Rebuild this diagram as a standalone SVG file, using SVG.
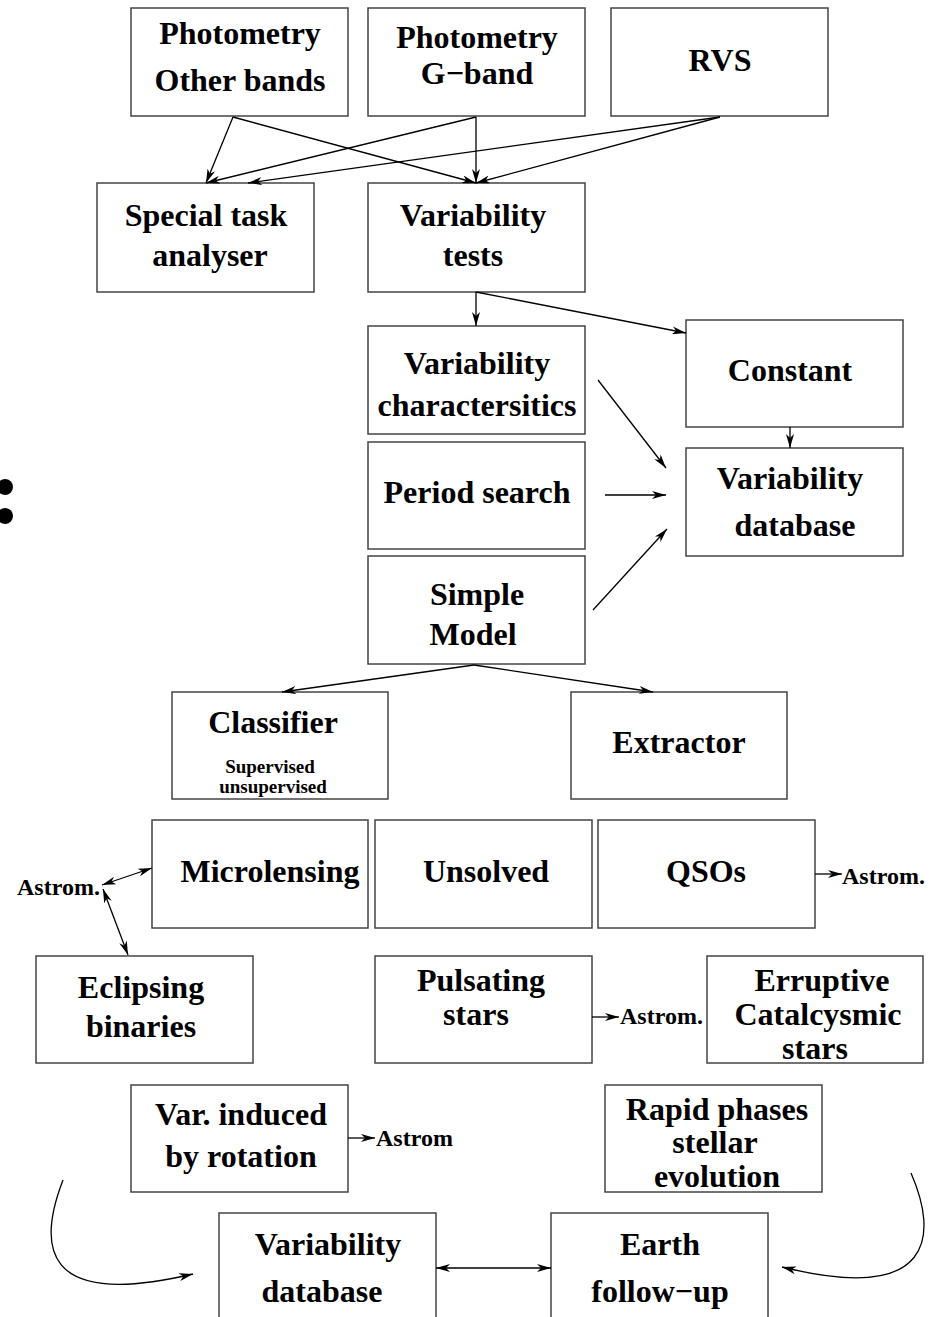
<svg xmlns="http://www.w3.org/2000/svg" width="933" height="1317" viewBox="0 0 933 1317">
<style>
.box{fill:#fff;stroke:#444;stroke-width:1.5}
text{font-family:"Liberation Serif","Times New Roman",serif;font-weight:bold;fill:#000}
.t{font-size:32px;text-anchor:middle}
.s{font-size:19px;text-anchor:middle}
.a{font-size:24px}
.c line,.c path{stroke:#000;stroke-width:1.3;fill:none}
</style>
<defs>
<marker id="ar" viewBox="0 0 14 8" refX="14" refY="4" markerWidth="14" markerHeight="8" markerUnits="userSpaceOnUse" orient="auto-start-reverse">
<path d="M0,0 L14,4 L0,8 L4,4 z" fill="#000"/>
</marker>
</defs>
<rect width="933" height="1317" fill="#fff"/>
<g id="n1"><rect class="box" x="131" y="8" width="217" height="108"/><text class="t" x="240" y="44">Photometry</text><text class="t" x="240" y="91">Other bands</text></g>
<g id="n2"><rect class="box" x="368" y="8" width="217" height="108"/><text class="t" x="477" y="48">Photometry</text><text class="t" x="477" y="84">G−band</text></g>
<g id="n3"><rect class="box" x="611" y="8" width="217" height="108"/><text class="t" x="720" y="71">RVS</text></g>
<g id="n4"><rect class="box" x="97" y="183" width="217" height="109"/><text class="t" x="206" y="226">Special task</text><text class="t" x="210" y="266">analyser</text></g>
<g id="n5"><rect class="box" x="368" y="183" width="217" height="109"/><text class="t" x="473" y="226">Variability</text><text class="t" x="473" y="266">tests</text></g>
<g id="n6"><rect class="box" x="368" y="326" width="217" height="108"/><text class="t" x="477" y="374">Variability</text><text class="t" x="477" y="416">charactersitics</text></g>
<g id="n7"><rect class="box" x="686" y="320" width="217" height="107"/><text class="t" x="790" y="381">Constant</text></g>
<g id="n8"><rect class="box" x="368" y="442" width="217" height="107"/><text class="t" x="477" y="503">Period search</text></g>
<g id="n9"><rect class="box" x="686" y="448" width="217" height="108"/><text class="t" x="790" y="489">Variability</text><text class="t" x="795" y="536">database</text></g>
<g id="n10"><rect class="box" x="368" y="556" width="217" height="108"/><text class="t" x="477" y="605">Simple</text><text class="t" x="473" y="645">Model</text></g>
<g id="n11"><rect class="box" x="172" y="692" width="216" height="107"/><text class="t" x="273" y="733">Classifier</text><text class="s" x="270" y="773">Supervised</text><text class="s" x="273" y="793">unsupervised</text></g>
<g id="n12"><rect class="box" x="571" y="692" width="216" height="107"/><text class="t" x="679" y="753">Extractor</text></g>
<g id="n13"><rect class="box" x="152" y="820" width="216" height="108"/><text class="t" x="270" y="882">Microlensing</text></g>
<g id="n14"><rect class="box" x="375" y="820" width="217" height="108"/><text class="t" x="486" y="882">Unsolved</text></g>
<g id="n15"><rect class="box" x="598" y="820" width="217" height="108"/><text class="t" x="706" y="882">QSOs</text></g>
<g id="n16"><rect class="box" x="36" y="956" width="217" height="107"/><text class="t" x="141" y="998">Eclipsing</text><text class="t" x="141" y="1037">binaries</text></g>
<g id="n17"><rect class="box" x="375" y="956" width="217" height="107"/><text class="t" x="481" y="991">Pulsating</text><text class="t" x="476" y="1025">stars</text></g>
<g id="n18"><rect class="box" x="707" y="956" width="216" height="107"/><text class="t" x="822" y="991">Erruptive</text><text class="t" x="818" y="1025">Catalcysmic</text><text class="t" x="815" y="1059">stars</text></g>
<g id="n19"><rect class="box" x="131" y="1085" width="217" height="107"/><text class="t" x="241" y="1125">Var. induced</text><text class="t" x="241" y="1167">by rotation</text></g>
<g id="n20"><rect class="box" x="605" y="1085" width="217" height="107"/><text class="t" x="717" y="1120">Rapid phases</text><text class="t" x="715" y="1153">stellar</text><text class="t" x="717" y="1187">evolution</text></g>
<g id="n21"><rect class="box" x="219" y="1213" width="217" height="110"/><text class="t" x="328" y="1255">Variability</text><text class="t" x="322" y="1302">database</text></g>
<g id="n22"><rect class="box" x="551" y="1213" width="217" height="110"/><text class="t" x="660" y="1255">Earth</text><text class="t" x="660" y="1302">follow−up</text></g>
<g id="labels">
<text class="a" x="17" y="895">Astrom.</text>
<text class="a" x="842" y="884">Astrom.</text>
<text class="a" x="620" y="1024">Astrom.</text>
<text class="a" x="376" y="1146">Astrom</text>
<circle cx="5" cy="487" r="8" fill="#000"/>
<circle cx="5" cy="516" r="8" fill="#000"/>
</g>
<g id="connectors" class="c">
<line x1="233" y1="117" x2="206" y2="183" marker-end="url(#ar)"/>
<line x1="233" y1="117" x2="476" y2="183" marker-end="url(#ar)"/>
<line x1="476" y1="117" x2="206" y2="183" marker-end="url(#ar)"/>
<line x1="476" y1="117" x2="476" y2="183" marker-end="url(#ar)"/>
<line x1="720" y1="117" x2="248" y2="183" marker-end="url(#ar)"/>
<line x1="720" y1="117" x2="476" y2="183" marker-end="url(#ar)"/>
<line x1="476" y1="292" x2="476" y2="326" marker-end="url(#ar)"/>
<line x1="476" y1="292" x2="686" y2="333" marker-end="url(#ar)"/>
<line x1="790" y1="427" x2="790" y2="448" marker-end="url(#ar)"/>
<line x1="598" y1="380" x2="666" y2="468" marker-end="url(#ar)"/>
<line x1="605" y1="495" x2="666" y2="495" marker-end="url(#ar)"/>
<line x1="593" y1="610" x2="667" y2="529" marker-end="url(#ar)"/>
<line x1="474" y1="665" x2="282" y2="692" marker-end="url(#ar)"/>
<line x1="474" y1="665" x2="653" y2="692" marker-end="url(#ar)"/>
<line x1="102" y1="885" x2="152" y2="868" marker-start="url(#ar)" marker-end="url(#ar)"/>
<line x1="103" y1="889" x2="128" y2="955" marker-start="url(#ar)" marker-end="url(#ar)"/>
<line x1="815" y1="874" x2="842" y2="874" marker-end="url(#ar)"/>
<line x1="592" y1="1017" x2="619" y2="1017" marker-end="url(#ar)"/>
<line x1="348" y1="1138" x2="375" y2="1138" marker-end="url(#ar)"/>
<line x1="436" y1="1268" x2="551" y2="1268" marker-start="url(#ar)" marker-end="url(#ar)"/>
<path d="M63,1180 C38,1245 40,1310 193,1274" marker-end="url(#ar)"/>
<path d="M911,1173 C938,1235 935,1305 782,1267" marker-end="url(#ar)"/>
</g>
</svg>
